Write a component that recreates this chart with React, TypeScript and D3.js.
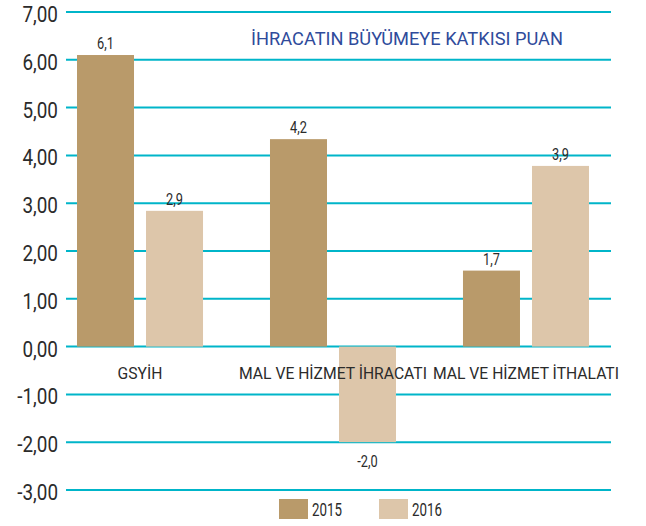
import React from "react";
import * as d3 from "d3";

const categories = ["GSYİH", "MAL VE HİZMET İHRACATI", "MAL VE HİZMET İTHALATI"];
const seriesNames = ["2015", "2016"];
const values2015 = [6.1, 4.34, 1.59];
const values2016 = [2.84, -2.0, 3.78];
const labels2015 = ["6,1", "4,2", "1,7"];
const labels2016 = ["2,9", "-2,0", "3,9"];
const yTicks = [7, 6, 5, 4, 3, 2, 1, 0, -1, -2, -3];
const title = "İHRACATIN BÜYÜMEYE KATKISI PUAN";

const W = 646;
const H = 526;
const colors = ["#B99A6A", "#DDC6AA"];
const gridColor = "#00B5C9";
const textColor = "#2b2b2b";
const font = "Roboto, 'Noto Sans', sans-serif";

function CText(props: {
  x: number;
  y: number;
  text: string;
  size: number;
  sx: number;
  anchor?: string;
  fill?: string;
  weight?: number;
}) {
  const { x, y, text, size, sx, anchor = "middle", fill = textColor, weight = 400 } = props;
  return (
    <text
      transform={`translate(${x},${y}) scale(${sx},1)`}
      textAnchor={anchor}
      fontSize={size}
      fontFamily={font}
      fontWeight={weight}
      fill={fill}
    >
      {text}
    </text>
  );
}

export default function App() {
  const y = d3.scaleLinear().domain([-3, 7]).range([490, 12]);
  const x0 = d3.scaleBand<string>().domain(categories).range([77, 589]).paddingInner(0.347).paddingOuter(0);
  const x1 = d3.scaleBand<string>().domain(seriesNames).range([0, x0.bandwidth()]).paddingInner(0.174);
  const gridX0 = 66;
  const gridX1 = 611;
  const seriesValues = [values2015, values2016];
  const seriesLabels = [labels2015, labels2016];

  return (
    <svg
      width={W}
      height={H}
      style={{ position: "absolute", left: 0, top: 0, background: "#fff" }}
    >
      {yTicks.map((t) => (
        <g key={t}>
          <line x1={gridX0} x2={gridX1} y1={y(t)} y2={y(t)} stroke={gridColor} strokeWidth={2} />
          <CText
            x={58}
            y={y(t) + 10}
            text={d3.format(".2f")(t).replace(".", ",").replace("−", "-")}
            size={22.5}
            sx={0.84}
            anchor="end"
          />
        </g>
      ))}

      <CText x={407} y={45} text={title} size={19} sx={0.96} fill="#2F4B9B" />

      {categories.map((c, i) => (
        <g key={c}>
          {seriesNames.map((s, j) => {
            const v = seriesValues[j][i];
            const bx = (x0(c) ?? 0) + (x1(s) ?? 0);
            const top = Math.min(y(v), y(0));
            const h = Math.abs(y(v) - y(0));
            return (
              <g key={s}>
                <rect x={bx} y={top} width={x1.bandwidth()} height={h} fill={colors[j]} />
                <CText
                  x={bx + x1.bandwidth() / 2}
                  y={v >= 0 ? y(v) - 6 : y(v) + 25}
                  text={seriesLabels[j][i]}
                  size={16}
                  sx={0.8}
                />
              </g>
            );
          })}
        </g>
      ))}

      {categories.map((c) => (
        <CText
          key={c}
          x={(x0(c) ?? 0) + x0.bandwidth() / 2}
          y={379}
          text={c}
          size={16}
          sx={0.98}
        />
      ))}

      {seriesNames.map((s, j) => (
        <g key={s} transform={`translate(${279 + j * 100},499)`}>
          <rect x={0} y={0} width={29} height={20} fill={colors[j]} />
          <CText x={33} y={17} text={s} size={18} sx={0.74} anchor="start" />
        </g>
      ))}
    </svg>
  );
}
